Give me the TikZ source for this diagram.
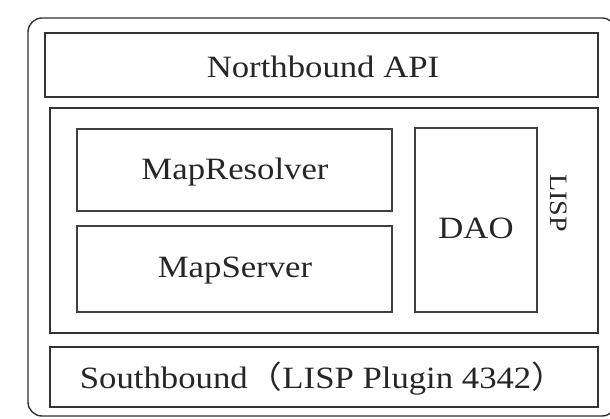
\documentclass[tikz,border=0pt]{standalone}
\usepackage{fontspec}
\setmainfont[FakeStretch=1.12]{Liberation Serif}
\newfontfamily\cjk[FakeStretch=1.12]{Noto Sans CJK SC}
\begin{document}
\begin{tikzpicture}[x=1pt,y=-1pt,
  frame/.style={draw=black!80,line width=1.4pt,inner sep=0pt},
  blockbox/.style={draw=black!75,line width=2pt,inner sep=0pt},
  lbl/.style={font=\fontsize{31}{33}\selectfont,text=black!85}]
\useasboundingbox (0,0) rectangle (610,419);
% outer frame
\draw[frame,rounded corners=14pt] (28,18) rectangle (616,416);
% layers
\node[frame,minimum width=553pt,minimum height=64pt] (nb) at (321.5,65) {};
\node[lbl] (nbt) at (323,67) {Northbound API};
\node[frame,minimum width=548pt,minimum height=225pt] (core) at (324,220.5) {};
\node[blockbox,minimum width=315pt,minimum height=82pt] (mrbox) at (234.5,170) {};
\node[lbl] (mr) at (235,172) {MapResolver};
\node[blockbox,minimum width=315pt,minimum height=86pt] (msbox) at (234.5,269) {};
\node[lbl] (ms) at (235,271) {MapServer};
\node[blockbox,minimum width=122pt,minimum height=184pt] (daobox) at (476,220) {};
\node[lbl] (dao) at (476,228) {DAO};
\node[font=\fontsize{25}{27}\selectfont,text=black!85,rotate=-90] (lisp) at (559,203) {LISP};
\node[frame,minimum width=548pt,minimum height=60pt] (sbbox) at (324,377) {};
\node[lbl] (sb) at (323,379) {Southbound{\cjk （}LISP Plugin 4342{\cjk ）}};
\end{tikzpicture}
\end{document}
